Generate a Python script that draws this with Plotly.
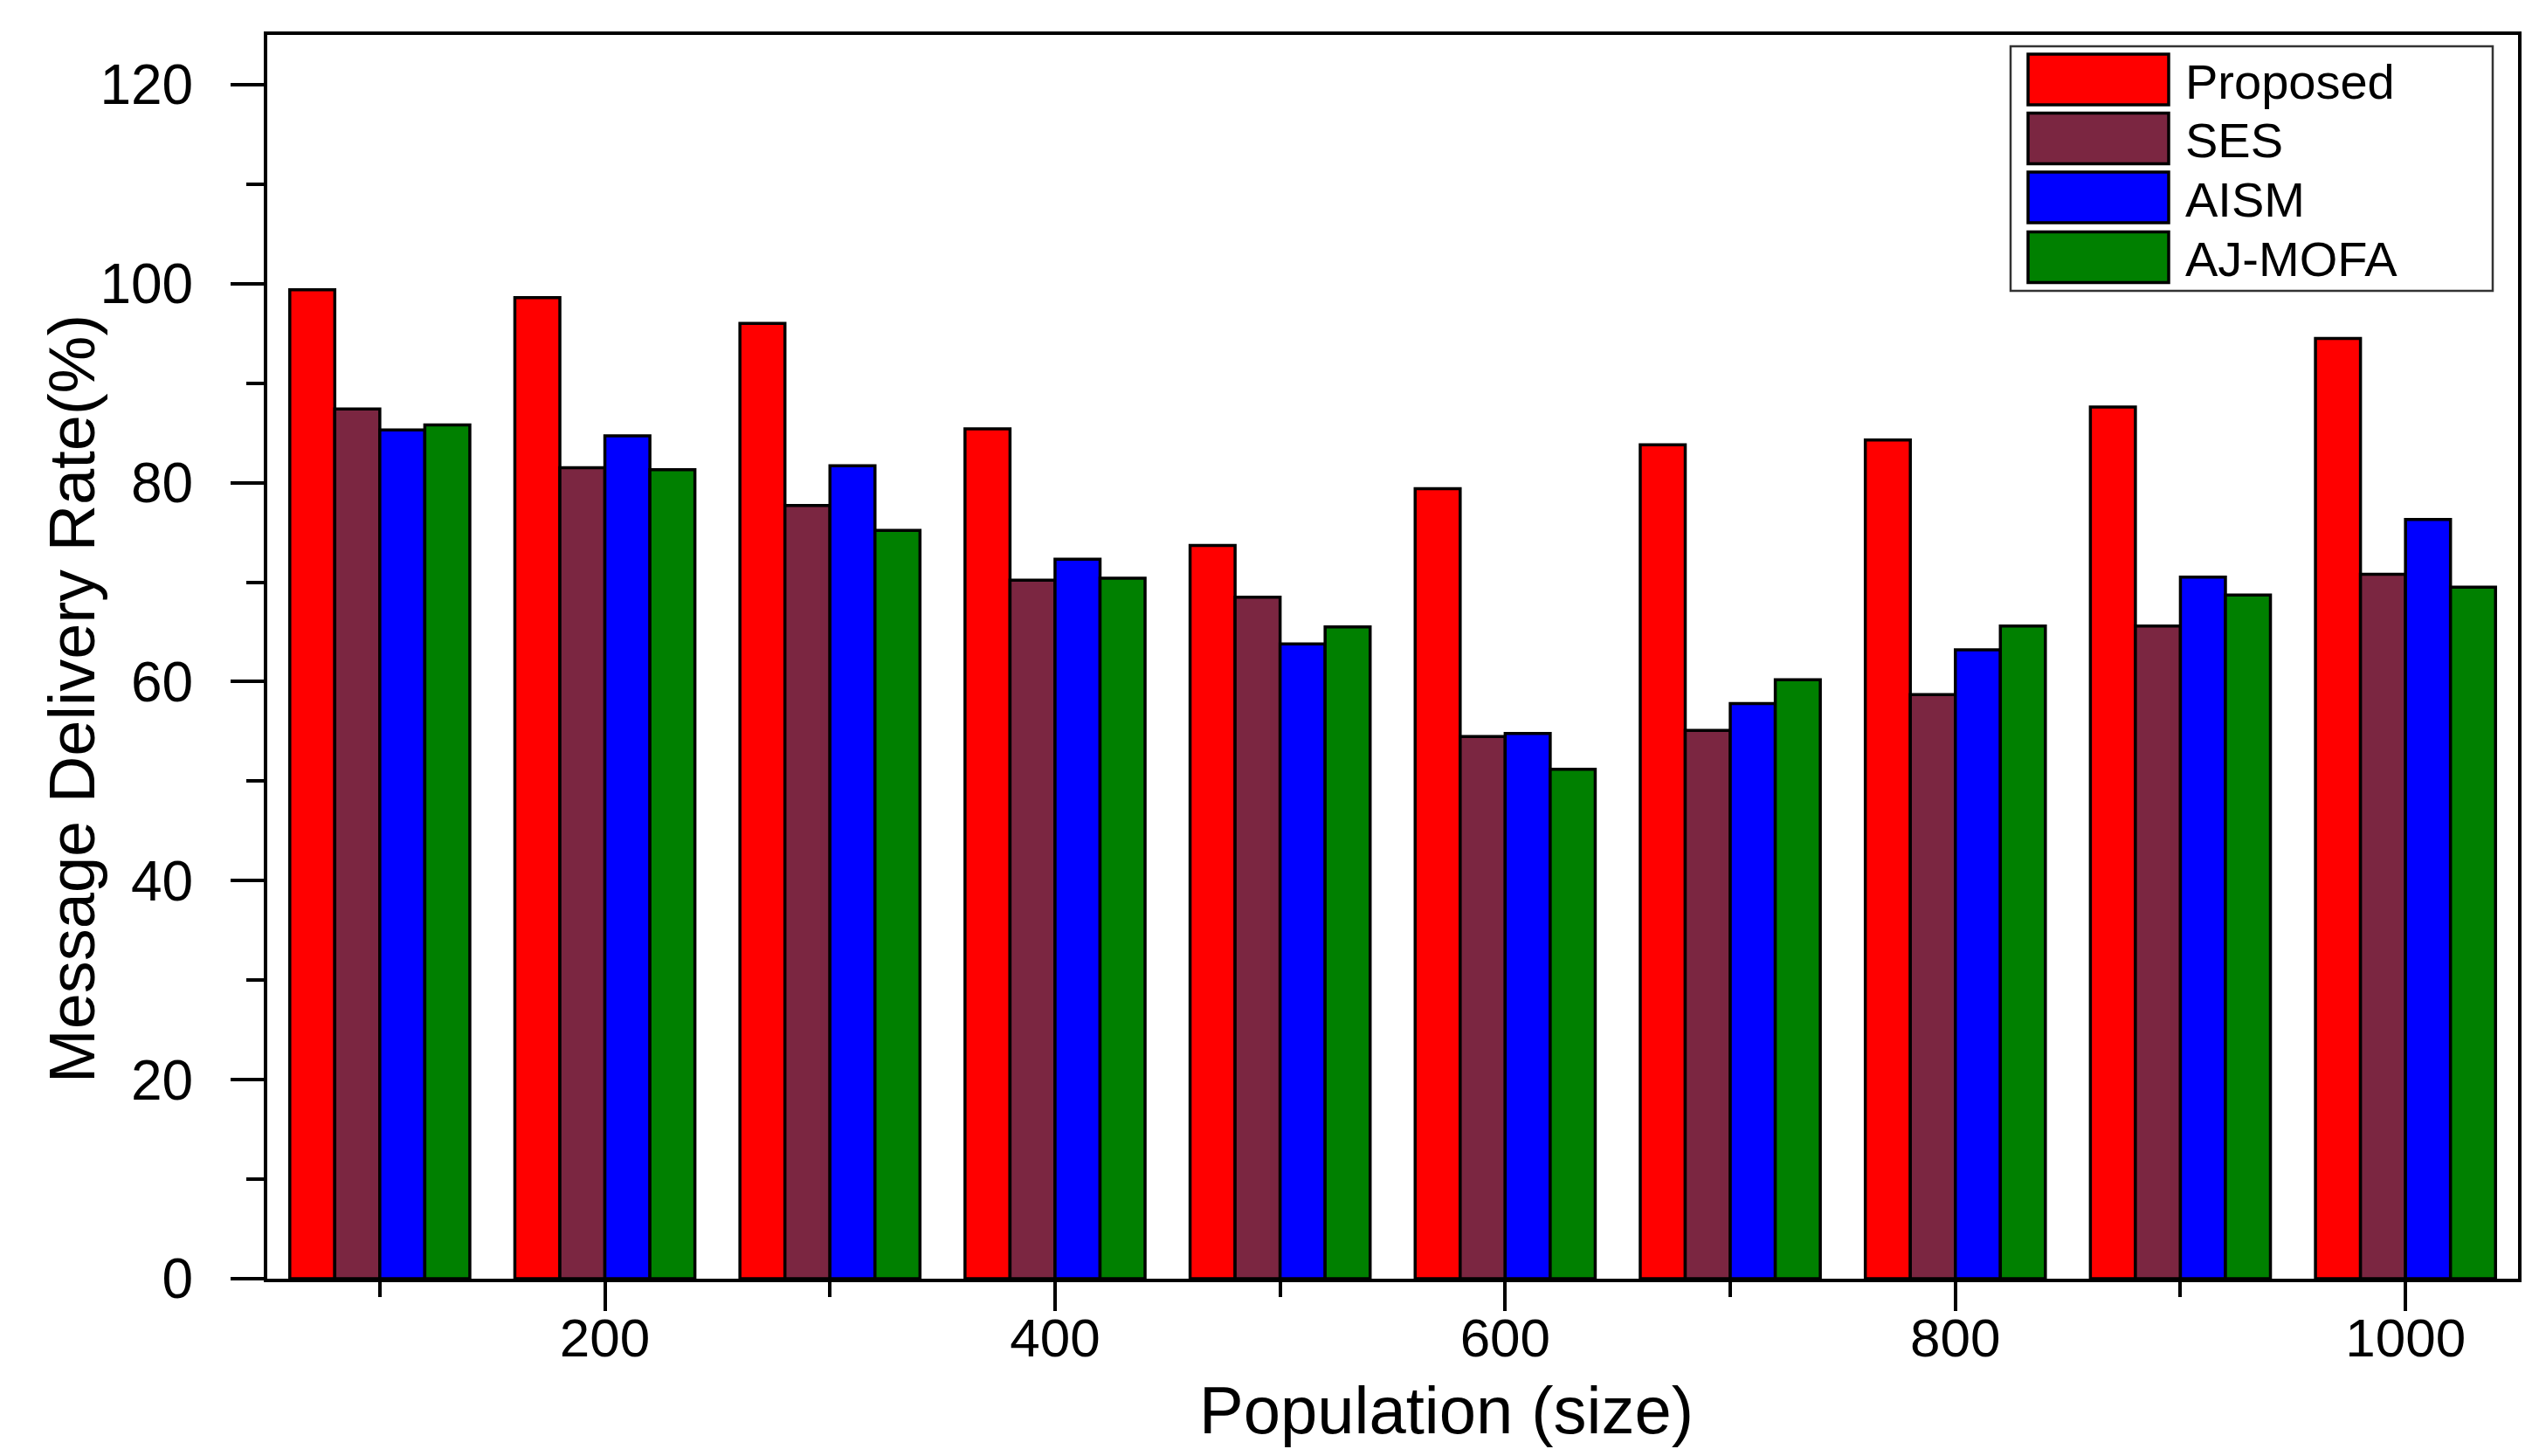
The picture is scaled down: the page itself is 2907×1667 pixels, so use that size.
import plotly.graph_objects as go

# ---- data ----
populations = [100, 200, 300, 400, 500, 600, 700, 800, 900, 1000]
proposed = [99.4, 98.6, 96.0, 85.4, 73.7, 79.4, 83.8, 84.3, 87.6, 94.5]
ses = [87.4, 81.5, 77.7, 70.2, 68.5, 54.5, 55.1, 58.7, 65.6, 70.8]
aism = [85.3, 84.7, 81.7, 72.3, 63.8, 54.8, 57.8, 63.2, 70.5, 76.3]
ajmofa = [85.8, 81.3, 75.2, 70.4, 65.5, 51.2, 60.2, 65.6, 68.7, 69.5]

series_names = ["Proposed", "SES", "AISM", "AJ-MOFA"]
series_values = [proposed, ses, aism, ajmofa]
series_colors = ["#FF0000", "#7B2641", "#0000FF", "#008000"]

x_title = "Population (size)"
y_title = "Message Delivery Rate(%)"

FONT = "Liberation Sans, Arial, Helvetica, sans-serif"
W, H = 2907, 1667
ML, MR, MT, MB = 298, 32, 32, 211

fig = go.Figure()
for name, vals, col in zip(series_names, series_values, series_colors):
    fig.add_trace(go.Bar(
        x=populations, y=vals, name=name,
        marker=dict(color=col, line=dict(color="black", width=3.5)),
        showlegend=False,
    ))

# ---- helpers: pixel -> paper coordinates ----
pw = W - ML - MR
ph = H - MT - MB
def px2x(px):
    return (px - ML) / pw
def py2y(py):
    return (H - MB - py) / ph

shapes = []
annotations = []

# ---- custom legend (large swatches like the reference) ----
shapes.append(dict(type="rect", xref="paper", yref="paper",
                   x0=px2x(2294), x1=px2x(2846), y0=py2y(325), y1=py2y(45),
                   line=dict(color="#333333", width=2.5), fillcolor="white", layer="above"))
row_centers = [83, 150.5, 218, 286.5]
for name, col, cy in zip(series_names, series_colors, row_centers):
    shapes.append(dict(type="rect", xref="paper", yref="paper",
                       x0=px2x(2314), x1=px2x(2475), y0=py2y(cy + 29), y1=py2y(cy - 29),
                       line=dict(color="black", width=3.5), fillcolor=col, layer="above"))
    annotations.append(dict(xref="paper", yref="paper", x=px2x(2492), y=py2y(cy + 2),
                            xanchor="left", yanchor="middle", text=name, showarrow=False,
                            font=dict(family=FONT, size=56, color="black")))

# ---- axis titles ----
annotations.append(dict(xref="paper", yref="paper", x=px2x(1648), y=py2y(1606),
                        xanchor="center", yanchor="middle", text=x_title, showarrow=False,
                        font=dict(family=FONT, size=76, color="black")))
annotations.append(dict(xref="paper", yref="paper", x=px2x(74), y=py2y(792),
                        xanchor="center", yanchor="middle", text=y_title, showarrow=False,
                        textangle=-90, font=dict(family=FONT, size=74, color="black")))

fig.update_layout(
    width=W, height=H,
    margin=dict(l=ML, r=MR, t=MT, b=MB, pad=0),
    paper_bgcolor="white", plot_bgcolor="white",
    barmode="group", bargap=0.2, bargroupgap=0.0,
    font=dict(family=FONT, color="black"),
    shapes=shapes, annotations=annotations,
    xaxis=dict(
        range=[50, 1050], tick0=0, dtick=200,
        ticks="outside", ticklen=33, tickwidth=4, tickcolor="black",
        minor=dict(ticks="outside", ticklen=17, tickwidth=4, tickcolor="black", dtick=100, tick0=0),
        showline=True, linewidth=4, linecolor="black", mirror=True,
        showgrid=False, zeroline=False,
        tickfont=dict(family=FONT, size=62, color="black"),
        ticklabelstandoff=-22,
        automargin=False,
    ),
    yaxis=dict(
        range=[0, 125], tick0=0, dtick=20,
        ticks="outside", ticklen=38, tickwidth=4, tickcolor="black",
        minor=dict(ticks="outside", ticklen=20, tickwidth=4, tickcolor="black", dtick=10, tick0=0),
        showline=True, linewidth=4, linecolor="black", mirror=True,
        showgrid=False, zeroline=False,
        tickfont=dict(family=FONT, size=64, color="black"),
        ticklabelstandoff=30,
        automargin=False,
    ),
)

fig.write_html("out.html")
